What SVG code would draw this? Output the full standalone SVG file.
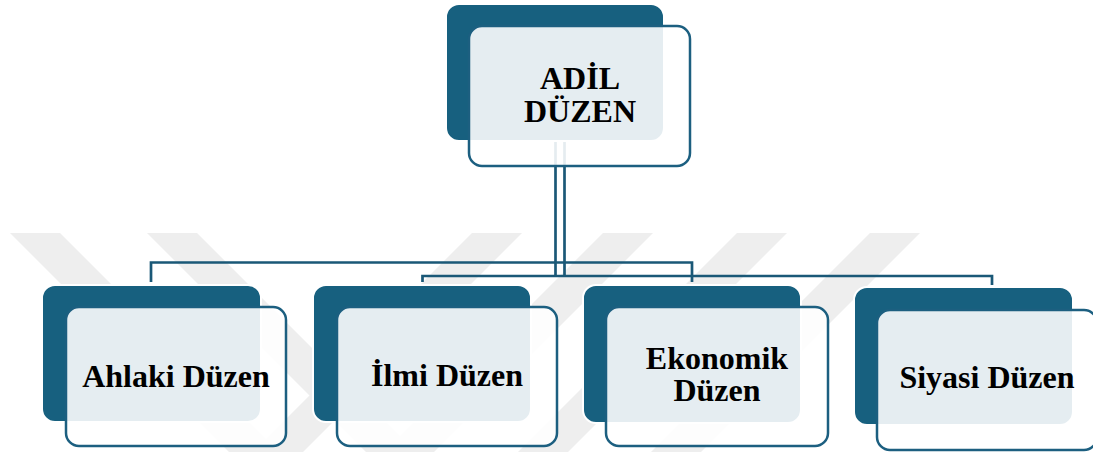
<svg xmlns="http://www.w3.org/2000/svg" width="1093" height="452" viewBox="0 0 1093 452">
  <style>
    .wm { fill: #eeeeee; }
    .back { fill: #17607f; stroke: #ffffff; stroke-width: 2; }
    .front { fill: #ffffff; fill-opacity: 0.89; stroke: #1c5f80; stroke-width: 2.5; }
    .lbl { font-family: "Liberation Serif", "Times New Roman", serif; font-weight: bold; font-size: 32px; fill: #000000; text-anchor: middle; }
    .conn { fill: none; stroke: #1a5877; stroke-width: 2.7; }
  </style>
  <rect width="1093" height="452" fill="#ffffff"/>
  <g id="watermark">
    <polygon class="wm" points="10,233 60,233 279,452 229,452"/>
    <polygon class="wm" points="147,233 197,233 416,452 366,452"/>
    <polygon class="wm" points="472,233 522,233 303,452 253,452"/>
    <polygon class="wm" points="603,233 653,233 434,452 384,452"/>
    <polygon class="wm" points="737,233 787,233 568,452 518,452"/>
    <polygon class="wm" points="870,233 920,233 701,452 651,452"/>
  </g>
  <g id="connectors">
    <polyline class="conn" points="151,282 151,262.5 692,262.5 692,282"/>
    <polyline class="conn" points="422.5,282 422.5,276 992,276 992,285"/>
    <line class="conn" x1="555.5" y1="141" x2="555.5" y2="277"/>
    <line class="conn" x1="564.5" y1="141" x2="564.5" y2="277"/>
  </g>
  <g id="node-adil-duzen">
    <rect class="back" x="446" y="4" width="218" height="137" rx="13"/>
    <rect class="front" x="469" y="26" width="221" height="140" rx="13"/>
    <text class="lbl" x="580" y="89">ADİL</text>
    <text class="lbl" x="580" y="122">DÜZEN</text>
  </g>
  <g id="node-ahlaki">
    <rect class="back" x="42" y="285" width="219" height="137" rx="13"/>
    <rect class="front" x="66" y="307" width="220" height="139" rx="13"/>
    <text class="lbl" x="176" y="387">Ahlaki Düzen</text>
  </g>
  <g id="node-ilmi">
    <rect class="back" x="313" y="285" width="218" height="137" rx="13"/>
    <rect class="front" x="337" y="307" width="220" height="139" rx="13"/>
    <text class="lbl" x="447" y="386">İlmi Düzen</text>
  </g>
  <g id="node-ekonomik">
    <rect class="back" x="583" y="285" width="218" height="138" rx="13"/>
    <rect class="front" x="606" y="307" width="222" height="139" rx="13"/>
    <text class="lbl" x="717" y="369">Ekonomik</text>
    <text class="lbl" x="717" y="401">Düzen</text>
  </g>
  <g id="node-siyasi">
    <rect class="back" x="854" y="287" width="219" height="138" rx="13"/>
    <rect class="front" x="877" y="310" width="220" height="140" rx="13"/>
    <text class="lbl" x="987" y="388">Siyasi Düzen</text>
  </g>
</svg>
